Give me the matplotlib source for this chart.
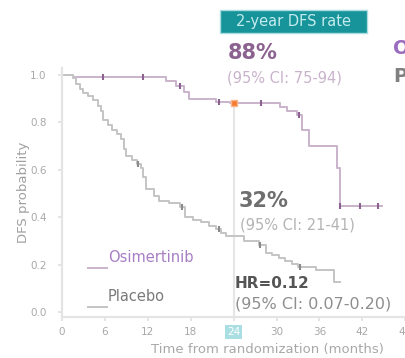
import matplotlib
matplotlib.use("Agg")
import matplotlib.pyplot as plt
from matplotlib.patches import Rectangle

# Kaplan-Meier step data (months, DFS probability)
osi_t = [0, 1.5, 14.5, 16.0, 17.0, 17.8, 21.5, 23.5, 30.5, 31.5, 32.8, 33.6, 34.5, 38.5, 38.9, 44.8]
osi_s = [1.0, 0.99, 0.975, 0.955, 0.93, 0.90, 0.887, 0.88, 0.865, 0.85, 0.83, 0.77, 0.70, 0.61, 0.45, 0.45]
osi_cens_t = [5.7, 11.3, 16.5, 22.0, 27.9, 33.2, 38.9, 41.7, 44.2]

pbo_t = [0, 1.5, 2.0, 2.5, 3.0, 3.6, 4.3, 5.0, 5.5, 5.8, 6.4, 7.0, 7.7, 8.3, 8.7, 8.9, 9.8, 10.5,
         11.0, 11.3, 11.8, 12.8, 13.5, 15.0, 16.5, 17.2, 18.3, 19.5, 20.5, 21.5, 22.3, 23.0, 25.5,
         27.5, 28.5, 29.4, 30.3, 31.2, 32.2, 33.0, 35.5, 38.0, 38.9]
pbo_s = [1.0, 0.985, 0.96, 0.94, 0.925, 0.91, 0.895, 0.87, 0.85, 0.81, 0.79, 0.77, 0.75, 0.73, 0.69,
         0.66, 0.64, 0.625, 0.61, 0.57, 0.52, 0.49, 0.47, 0.46, 0.445, 0.40, 0.39, 0.38, 0.365, 0.35,
         0.335, 0.32, 0.30, 0.285, 0.25, 0.24, 0.23, 0.215, 0.205, 0.19, 0.18, 0.13, 0.13]
pbo_cens_t = [10.6, 16.8, 22.0, 27.7, 33.3]

x_ticks = [0, 6, 12, 18, 24, 30, 36, 42, 48]
y_ticks = [0.0, 0.2, 0.4, 0.6, 0.8, 1.0]
landmark = 24
osi_rate, pbo_rate = 0.88, 0.32

PURPLE = "#8c6290"
PURPLE_LIGHT = "#c9b3cc"
GREY = "#8a8a8a"
GREY_LIGHT = "#c4c4c4"
TEAL = "#17939a"
ORANGE = "#f47b30"


def surv_at(t, times, surv):
    val = surv[0]
    for ti, si in zip(times, surv):
        if ti <= t:
            val = si
    return val


W, H = 405, 358
fig = plt.figure(figsize=(W / 100, H / 100), dpi=100)
# axes in pixel terms: left spine at x=62, 7.15 px per month; bottom at y=317, top at y=68
ax_left, ax_bottom, ax_top = 62, 317, 68
xmax = 50
ax = fig.add_axes([ax_left / W, (H - ax_bottom) / H, 7.15 * xmax / W, (ax_bottom - ax_top) / H])
ax.set_xlim(0, xmax)
ax.set_ylim(-0.019, 1.029)

for side in ("top", "right"):
    ax.spines[side].set_visible(False)
for side in ("left", "bottom"):
    ax.spines[side].set_color("#e4e4e4")
    ax.spines[side].set_linewidth(1.6)

ax.set_xticks(x_ticks)
ax.set_yticks(y_ticks)
ax.set_xticklabels([str(v) for v in x_ticks])
ax.set_yticklabels([f"{v:.1f}" for v in y_ticks])
ax.tick_params(axis="both", colors="#e0e0e0", labelcolor="#a8a8a8", labelsize=7.5, length=3, width=1.2)
ax.tick_params(axis="y", pad=8)
ax.tick_params(axis="x", pad=4)
for lab in ax.get_xticklabels():
    if lab.get_text() == str(landmark):
        lab.set_color("white")
        lab.set_bbox(dict(boxstyle="square,pad=0.2", facecolor="#a9dfe2", edgecolor="none"))

# landmark line
ax.plot([landmark, landmark], [ax.get_ylim()[0], osi_rate], color="#e6e6e6", lw=1.5, zorder=1)

# curves
ax.step(osi_t, osi_s, where="post", color=PURPLE_LIGHT, lw=1.4, zorder=2)
ax.step(pbo_t, pbo_s, where="post", color=GREY_LIGHT, lw=1.4, zorder=2)
ax.plot(osi_cens_t, [surv_at(t, osi_t, osi_s) for t in osi_cens_t], ls="none",
        marker="|", ms=5, mew=1.5, color=PURPLE, zorder=3)
ax.plot(pbo_cens_t, [surv_at(t, pbo_t, pbo_s) for t in pbo_cens_t], ls="none",
        marker="|", ms=5, mew=1.5, color=GREY, zorder=3)
ax.plot([landmark], [osi_rate], marker="s", ms=5, color=ORANGE, mec="#f9b48a", mew=1, zorder=4)

# inline legend
ax.plot([3.6, 6.3], [0.187, 0.187], color=PURPLE_LIGHT, lw=1.4)
ax.text(6.4, 0.233, "Osimertinib", color="#a77fc4", fontsize=10.5, va="center", ha="left")
ax.plot([3.6, 6.3], [0.023, 0.023], color=GREY_LIGHT, lw=1.4)
ax.text(6.4, 0.067, "Placebo", color="#7a7a7a", fontsize=10.5, va="center", ha="left")

ax.yaxis.set_label_coords(-(ax_left - 30) / (7.15 * xmax), 0.47)
ax.set_ylabel("DFS probability", color="#a0a0a0", fontsize=9.5)


def px(x, y):
    return x / W, 1 - y / H


# header badge
fig.patches.append(Rectangle(px(220, 33), 147 / W, 23 / H, transform=fig.transFigure,
                             facecolor=TEAL, edgecolor="#a8dcdf", lw=1))
fig.text(*px(294, 21.5), "2-year DFS rate", color="#c4ecee", fontsize=10.5,
         ha="center", va="center")

# rate annotations
fig.text(*px(228, 53), f"{osi_rate * 100:.0f}%", color=PURPLE, fontsize=15, fontweight="bold",
         ha="left", va="center")
fig.text(*px(227, 78), "(95% CI: 75-94)", color=PURPLE_LIGHT, fontsize=10.5, ha="left", va="center")
fig.text(*px(239, 201), f"{pbo_rate * 100:.0f}%", color="#6e6e6e", fontsize=15, fontweight="bold",
         ha="left", va="center")
fig.text(*px(240, 225), "(95% CI: 21-41)", color="#b4b4b4", fontsize=10.5, ha="left", va="center")
fig.text(*px(235, 283), "HR=0.12", color="#555555", fontsize=11, fontweight="bold",
         ha="left", va="center")
fig.text(*px(235, 304), "(95% CI: 0.07-0.20)", color="#8e8e8e", fontsize=11.5, ha="left", va="center")

# side legend, running off the right edge
fig.text(*px(393, 49), "Osimertinib", color="#9a6cc0", fontsize=14, fontweight="bold",
         ha="left", va="center")
fig.text(*px(393, 76), "Placebo", color="#808080", fontsize=14, fontweight="bold",
         ha="left", va="center")

fig.text(*px(267, 350), "Time from randomization (months)", color="#a8a8a8", fontsize=9.5,
         ha="center", va="center")

fig.savefig("out.png", dpi=100)
